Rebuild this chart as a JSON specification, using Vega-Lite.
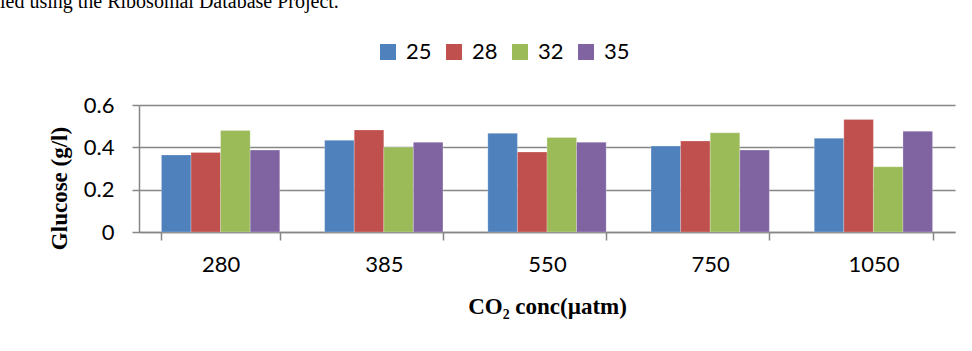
{
  "$schema": "https://vega.github.io/schema/vega-lite/v6.json",
  "autosize": {"type": "none"},
  "padding": {"left": 139, "top": 105, "right": 17, "bottom": 119},
  "width": 816,
  "height": 127,
  "background": "white",
  "title": {
    "text": "ied using the Ribosomal Database Project.",
    "anchor": "start",
    "frame": "group",
    "orient": "top",
    "dx": -139,
    "offset": 13,
    "font": "Liberation Serif",
    "fontSize": 20,
    "fontWeight": "normal",
    "color": "#000000",
    "baseline": "alphabetic"
  },
  "data": {
    "values": [
      {"co2": "280", "temp": "25", "glucose": 0.364},
      {"co2": "280", "temp": "28", "glucose": 0.376},
      {"co2": "280", "temp": "32", "glucose": 0.479},
      {"co2": "280", "temp": "35", "glucose": 0.387},
      {"co2": "385", "temp": "25", "glucose": 0.433},
      {"co2": "385", "temp": "28", "glucose": 0.482},
      {"co2": "385", "temp": "32", "glucose": 0.400},
      {"co2": "385", "temp": "35", "glucose": 0.424},
      {"co2": "550", "temp": "25", "glucose": 0.466},
      {"co2": "550", "temp": "28", "glucose": 0.378},
      {"co2": "550", "temp": "32", "glucose": 0.447},
      {"co2": "550", "temp": "35", "glucose": 0.424},
      {"co2": "750", "temp": "25", "glucose": 0.406},
      {"co2": "750", "temp": "28", "glucose": 0.430},
      {"co2": "750", "temp": "32", "glucose": 0.469},
      {"co2": "750", "temp": "35", "glucose": 0.387},
      {"co2": "1050", "temp": "25", "glucose": 0.443},
      {"co2": "1050", "temp": "28", "glucose": 0.532},
      {"co2": "1050", "temp": "32", "glucose": 0.308},
      {"co2": "1050", "temp": "35", "glucose": 0.476}
    ]
  },
  "mark": {"type": "bar", "stroke": "#ffffff", "strokeWidth": 0.6, "strokeOpacity": 0.4},
  "encoding": {
    "x": {
      "field": "co2",
      "type": "nominal",
      "sort": ["280", "385", "550", "750", "1050"],
      "scale": {"paddingInner": 0.275, "paddingOuter": 0.1375},
      "axis": {
        "title": "CO₂ conc(µatm)",
        "labelAngle": 0,
        "labelFont": "Lato",
        "labelFontSize": 22,
        "labelColor": "#000000",
        "labelPadding": 14,
        "tickBand": "extent",
        "tickSize": 8,
        "tickColor": "#868686",
        "tickWidth": 1.5,
        "domainColor": "#868686",
        "domainWidth": 1.5,
        "titleFont": "Liberation Serif",
        "titleFontSize": 23,
        "titleFontWeight": "bold",
        "titleColor": "#000000",
        "titlePadding": 20
      }
    },
    "xOffset": {"field": "temp", "type": "nominal", "sort": ["25", "28", "32", "35"], "scale": {"paddingInner": 0, "paddingOuter": 0}},
    "y": {
      "field": "glucose",
      "type": "quantitative",
      "scale": {"domain": [0, 0.6], "nice": false},
      "axis": {
        "title": "Glucose (g/l)",
        "values": [0, 0.2, 0.4, 0.6],
        "format": "~g",
        "labelFont": "Lato",
        "labelFontSize": 22,
        "labelColor": "#000000",
        "labelPadding": 18,
        "tickSize": 7,
        "tickColor": "#868686",
        "tickWidth": 1.5,
        "grid": true,
        "gridColor": "#868686",
        "gridWidth": 1.5,
        "domainColor": "#868686",
        "domainWidth": 1.5,
        "titleFont": "Liberation Serif",
        "titleFontSize": 23,
        "titleFontWeight": "bold",
        "titleColor": "#000000",
        "titlePadding": 12,
        "titleY": 83
      }
    },
    "color": {
      "field": "temp",
      "type": "nominal",
      "sort": ["25", "28", "32", "35"],
      "scale": {"domain": ["25", "28", "32", "35"], "range": ["#4F81BD", "#C0504D", "#9BBB59", "#8064A2"]},
      "legend": {
        "title": null,
        "orient": "none",
        "direction": "horizontal",
        "legendX": 238,
        "legendY": -64,
        "padding": 0,
        "symbolType": "square",
        "symbolSize": 256,
        "symbolStrokeWidth": 0,
        "symbolOpacity": 1,
        "labelFont": "Lato",
        "labelFontSize": 22,
        "labelColor": "#000000",
        "labelOffset": 7,
        "columnPadding": 11
      }
    }
  },
  "config": {"view": {"stroke": null}}
}
